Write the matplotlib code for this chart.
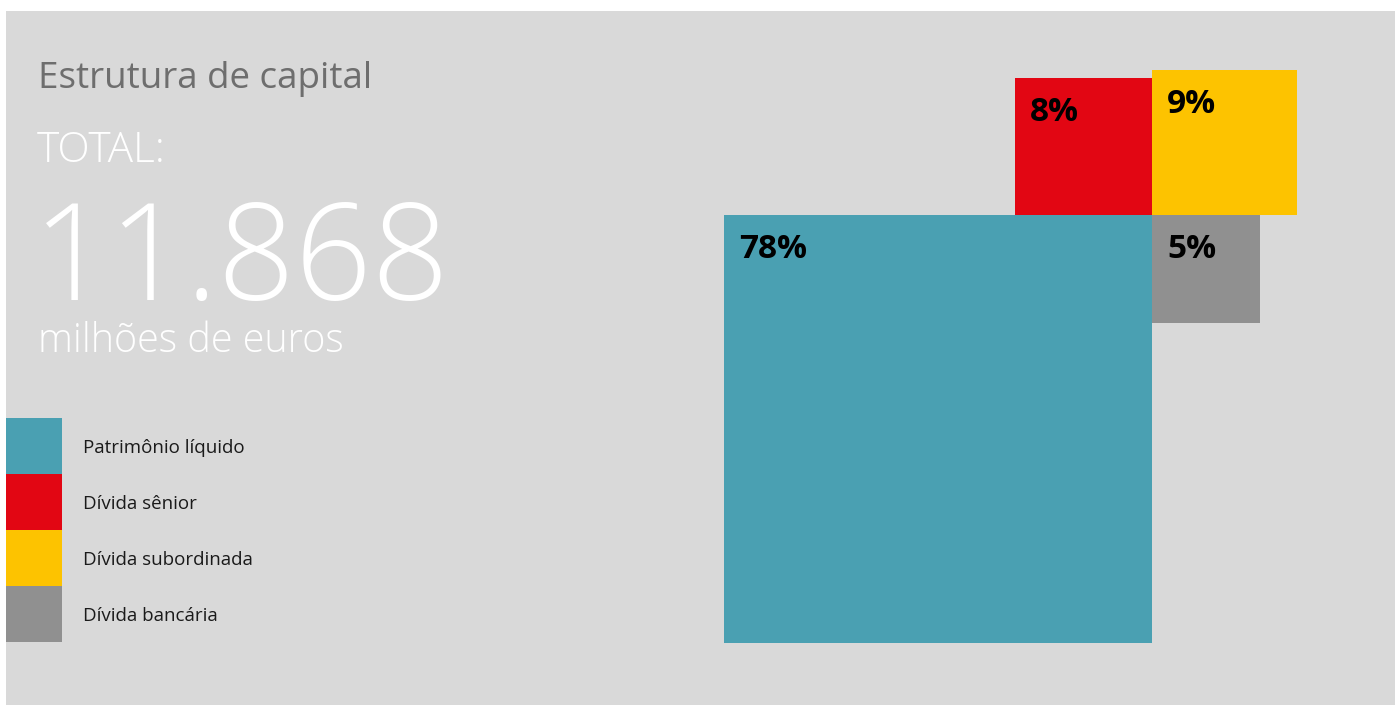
import numpy as np
import matplotlib
matplotlib.use('Agg')
import matplotlib.pyplot as plt
from matplotlib.patches import Rectangle

# data
categories = ['Patrimônio líquido', 'Dívida sênior', 'Dívida subordinada', 'Dívida bancária']
shares = [78, 8, 9, 5]
colors = ['#4aa0b2', '#e20613', '#fdc300', '#909090']
total_value = '11.868'

W, H = 1395, 705
plt.rcParams['font.family'] = ['Open Sans', 'DejaVu Sans']

fig = plt.figure(figsize=(W / 100, H / 100), dpi=100)
fig.patch.set_facecolor('white')
# grey panel
fig.add_artist(Rectangle((6 / W, 0), 1 - 6 / W, 1 - 11 / H, transform=fig.transFigure,
                         facecolor='#d9d9d9', edgecolor='none', zorder=0))


def fx(px):
    return px / W


def fy(py):
    return 1 - py / H


# header texts
fig.text(fx(38), fy(88), 'Estrutura de capital', fontsize=26.5, color='#6e6e6e', va='baseline')
fig.text(fx(37), fy(162), 'TOTAL:', fontsize=30.5, color='white', va='baseline', fontweight='light')
fig.text(fx(33), fy(300), total_value, fontsize=97, color='white', va='baseline', fontweight='light')
fig.text(fx(38), fy(352), 'milhões de euros', fontsize=28.5, color='white', va='baseline', fontweight='light')

# legend
for i, (cat, col) in enumerate(zip(categories, colors)):
    top = 418 + i * 56
    fig.add_artist(Rectangle((fx(6), fy(top + 56)), 56 / W, 56 / H, transform=fig.transFigure,
                             facecolor=col, edgecolor='none', zorder=1))
    fig.text(fx(83), fy(top + 30), cat, fontsize=13.5, color='#1a1a1a', va='center')

# squares: side proportional to sqrt(share), all meeting at one corner
unit = 428 / np.sqrt(78)  # px per sqrt(percent)
px_left, px_right, px_top, px_bottom = 700, 1320, 50, 660
pivot_x, pivot_y = 1152, 215
ax = fig.add_axes([fx(px_left), fy(px_bottom), (px_right - px_left) / W, (px_bottom - px_top) / H])
ax.set_xlim((px_left - pivot_x) / unit, (px_right - pivot_x) / unit)
ax.set_ylim((pivot_y - px_bottom) / unit, (pivot_y - px_top) / unit)
ax.axis('off')
ax.patch.set_alpha(0)

quadrants = [(-1, -1), (-1, 1), (1, 1), (1, -1)]
sides = np.sqrt(shares)
for s, v, col, (dx, dy) in zip(sides, shares, colors, quadrants):
    left = min(0, dx * s)
    bottom = min(0, dy * s)
    ax.bar(left, s, width=s, bottom=bottom, align='edge', color=col, linewidth=0)
    ax.annotate(f'{v}%', xy=(left, bottom + s), xytext=(11, -25), textcoords='offset points',
                fontsize=24, fontweight='bold', color='black', va='center', ha='left')

fig.savefig('out.png', dpi=100)
